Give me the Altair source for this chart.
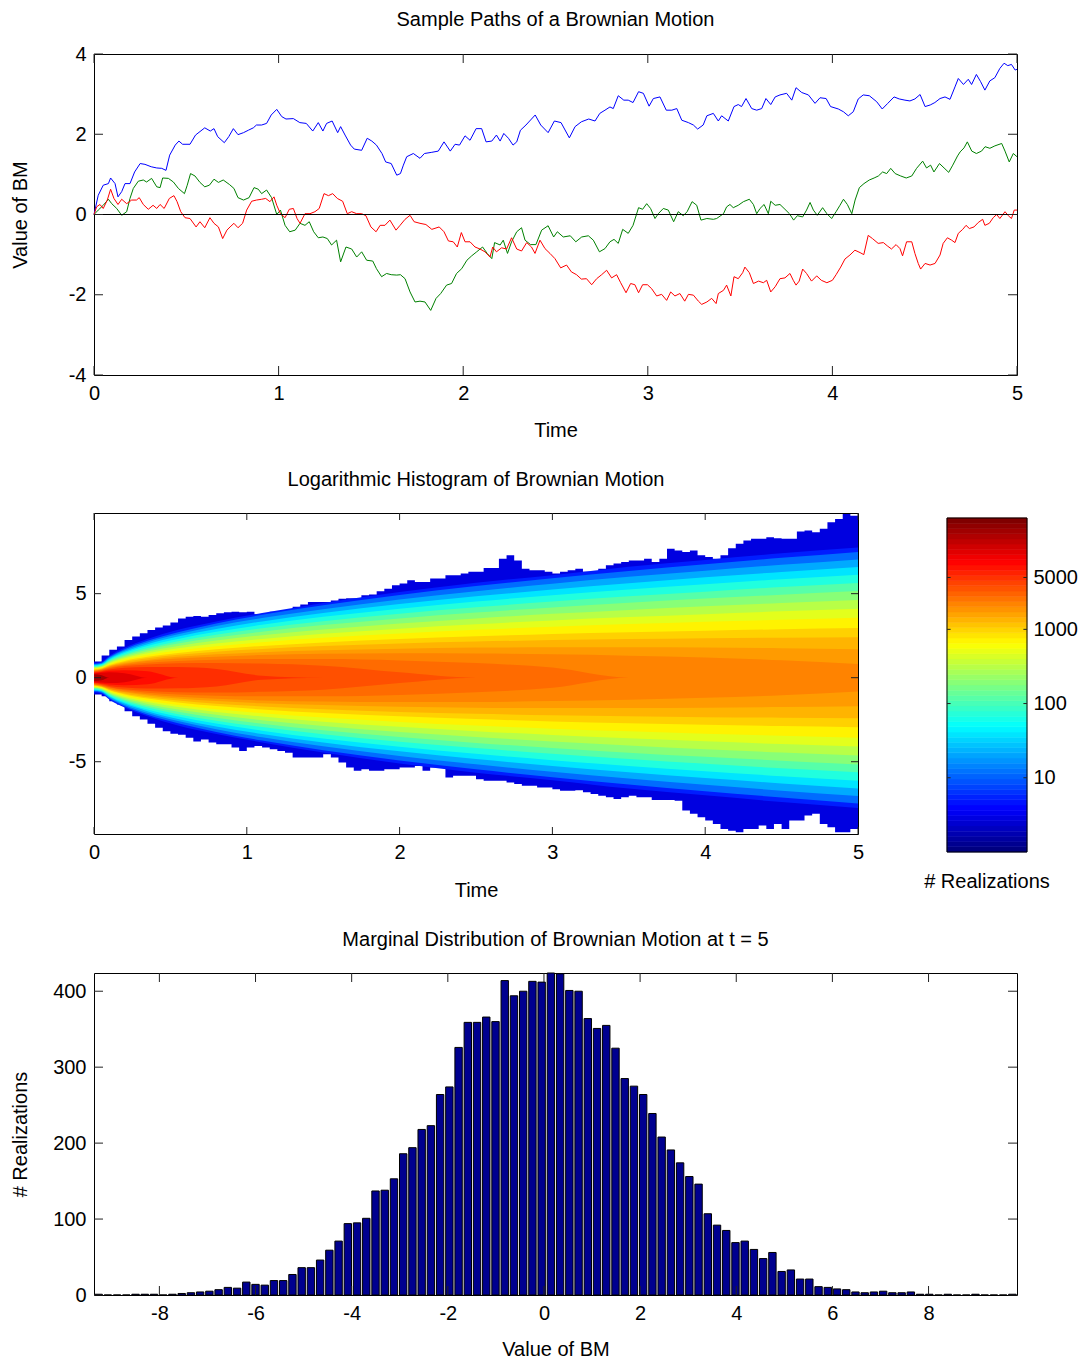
import math
import altair as alt
import pandas as pd

FONT = "Liberation Sans"
FS = 20
TICK = "#222222"

# ------------------------------------------------------------------
# Panel 1: three sample paths (t, value)
# ------------------------------------------------------------------
blue_path = [(0.0,0.0),(0.023,0.48),(0.05,0.73),(0.078,0.77),(0.09,0.91),(0.114,0.77),(0.13,0.44),(0.15,0.57),(0.168,0.77),(0.195,0.77),(0.22,1.06),(0.25,1.27),(0.276,1.25),(0.31,1.19),(0.34,1.16),(0.367,1.15),(0.39,1.10),(0.41,1.48),(0.44,1.73),(0.46,1.83),(0.48,1.75),(0.52,1.75),(0.55,1.98),(0.60,2.16),(0.63,2.08),(0.65,2.14),(0.67,1.94),(0.706,1.79),(0.73,1.94),(0.755,2.14),(0.78,1.99),(0.81,2.04),(0.836,2.10),(0.863,2.16),(0.88,2.23),(0.908,2.23),(0.935,2.27),(0.96,2.48),(0.99,2.62),(1.017,2.44),(1.04,2.38),(1.08,2.39),(1.115,2.29),(1.15,2.27),(1.185,2.08),(1.215,2.29),(1.24,2.08),(1.26,2.27),(1.29,2.33),(1.32,2.04),(1.336,2.19),(1.36,1.98),(1.39,1.73),(1.41,1.63),(1.45,1.60),(1.48,1.90),(1.505,1.83),(1.53,1.73),(1.56,1.52),(1.58,1.31),(1.61,1.27),(1.64,0.98),(1.66,1.02),(1.676,1.23),(1.694,1.44),(1.73,1.52),(1.766,1.40),(1.79,1.52),(1.83,1.55),(1.865,1.58),(1.896,1.81),(1.93,1.58),(1.956,1.75),(1.98,1.73),(2.01,1.96),(2.037,1.85),(2.07,2.14),(2.1,2.14),(2.124,1.81),(2.155,1.83),(2.18,1.98),(2.2,1.83),(2.22,2.02),(2.245,1.90),(2.27,1.73),(2.29,1.81),(2.31,2.10),(2.34,2.23),(2.39,2.48),(2.42,2.23),(2.46,2.04),(2.494,2.33),(2.53,2.29),(2.575,1.91),(2.606,2.19),(2.64,2.31),(2.68,2.38),(2.714,2.33),(2.74,2.52),(2.768,2.60),(2.795,2.68),(2.813,2.64),(2.84,2.96),(2.87,2.85),(2.894,2.85),(2.92,2.79),(2.95,3.06),(2.976,3.02),(3.007,2.70),(3.03,2.89),(3.066,2.93),(3.1,2.60),(3.13,2.60),(3.157,2.64),(3.184,2.35),(3.22,2.29),(3.247,2.23),(3.27,2.13),(3.3,2.23),(3.32,2.46),(3.355,2.52),(3.382,2.33),(3.4,2.46),(3.436,2.33),(3.467,2.69),(3.49,2.74),(3.508,2.69),(3.532,2.89),(3.563,2.64),(3.59,2.60),(3.617,2.64),(3.64,2.89),(3.666,2.74),(3.69,2.93),(3.716,2.98),(3.752,3.02),(3.78,2.85),(3.803,3.16),(3.834,3.04),(3.87,2.98),(3.906,2.77),(3.933,2.91),(3.966,2.89),(3.99,2.69),(4.032,2.63),(4.06,2.56),(4.086,2.46),(4.113,2.56),(4.14,2.88),(4.167,2.98),(4.2,2.96),(4.24,2.81),(4.27,2.63),(4.3,2.77),(4.334,2.93),(4.362,2.88),(4.393,2.85),(4.42,2.83),(4.447,2.88),(4.475,2.99),(4.502,2.69),(4.53,2.73),(4.555,2.79),(4.583,2.89),(4.61,2.93),(4.637,2.87),(4.664,3.18),(4.682,3.39),(4.71,3.24),(4.736,3.37),(4.754,3.24),(4.78,3.49),(4.803,3.31),(4.826,3.10),(4.853,3.33),(4.88,3.41),(4.907,3.64),(4.93,3.77),(4.95,3.71),(4.97,3.74),(4.99,3.60),(5.0,3.62)]

green_path = [(0.0,0.0),(0.023,0.11),(0.05,0.23),(0.078,0.38),(0.096,0.27),(0.123,0.15),(0.15,-0.02),(0.177,0.07),(0.195,0.40),(0.213,0.65),(0.24,0.83),(0.267,0.86),(0.285,0.81),(0.312,0.90),(0.34,0.69),(0.358,0.67),(0.372,0.91),(0.403,0.90),(0.43,0.81),(0.457,0.65),(0.49,0.52),(0.505,0.73),(0.523,1.02),(0.547,0.96),(0.574,0.80),(0.6,0.69),(0.625,0.73),(0.65,0.88),(0.674,0.80),(0.7,0.86),(0.733,0.75),(0.758,0.65),(0.78,0.42),(0.81,0.36),(0.84,0.42),(0.867,0.67),(0.89,0.63),(0.908,0.52),(0.935,0.61),(0.962,0.42),(0.99,0.0),(1.01,0.11),(1.035,-0.27),(1.06,-0.43),(1.09,-0.39),(1.116,-0.22),(1.143,-0.27),(1.166,-0.18),(1.19,-0.43),(1.215,-0.58),(1.24,-0.56),(1.264,-0.60),(1.287,-0.76),(1.314,-0.64),(1.336,-1.18),(1.365,-0.81),(1.396,-0.86),(1.423,-1.06),(1.45,-0.93),(1.477,-1.14),(1.51,-1.16),(1.53,-1.35),(1.558,-1.55),(1.585,-1.47),(1.61,-1.50),(1.64,-1.51),(1.66,-1.50),(1.685,-1.60),(1.712,-1.93),(1.739,-2.18),(1.766,-2.16),(1.793,-2.18),(1.824,-2.39),(1.853,-2.09),(1.878,-1.97),(1.91,-1.76),(1.937,-1.72),(1.964,-1.47),(1.992,-1.35),(2.02,-1.14),(2.046,-1.03),(2.073,-0.93),(2.105,-0.81),(2.13,-0.97),(2.155,-1.10),(2.17,-0.70),(2.2,-0.76),(2.217,-0.64),(2.24,-0.97),(2.262,-0.68),(2.29,-0.43),(2.316,-0.33),(2.335,-0.64),(2.365,-0.75),(2.394,-0.75),(2.425,-0.39),(2.46,-0.28),(2.49,-0.56),(2.51,-0.43),(2.542,-0.56),(2.58,-0.53),(2.61,-0.68),(2.642,-0.56),(2.678,-0.53),(2.705,-0.64),(2.738,-0.93),(2.768,-0.85),(2.795,-0.68),(2.817,-0.62),(2.84,-0.72),(2.864,-0.37),(2.894,-0.47),(2.92,-0.27),(2.95,0.17),(2.972,0.13),(2.994,0.27),(3.015,0.15),(3.039,-0.10),(3.057,0.02),(3.084,0.15),(3.111,0.11),(3.14,-0.18),(3.165,0.07),(3.192,-0.03),(3.213,0.07),(3.24,0.32),(3.265,0.23),(3.288,-0.14),(3.32,-0.10),(3.355,-0.12),(3.373,-0.10),(3.41,0.02),(3.427,0.19),(3.445,0.25),(3.463,0.17),(3.49,0.23),(3.518,0.32),(3.55,0.38),(3.572,0.25),(3.59,0.02),(3.608,0.15),(3.63,0.25),(3.653,0.02),(3.666,0.33),(3.69,0.23),(3.716,0.25),(3.743,0.13),(3.767,0.02),(3.79,-0.14),(3.81,-0.03),(3.839,-0.06),(3.86,0.11),(3.879,0.30),(3.897,0.11),(3.918,-0.02),(3.947,0.17),(3.97,0.02),(3.996,-0.10),(4.02,0.07),(4.041,0.23),(4.06,0.38),(4.081,0.25),(4.105,0.02),(4.123,0.36),(4.146,0.67),(4.171,0.77),(4.2,0.86),(4.226,0.91),(4.249,0.96),(4.272,1.06),(4.294,1.02),(4.316,1.15),(4.34,1.02),(4.37,0.96),(4.4,0.91),(4.43,0.96),(4.456,1.15),(4.489,1.33),(4.51,1.16),(4.532,1.23),(4.55,1.06),(4.58,1.27),(4.605,1.16),(4.63,1.05),(4.652,1.23),(4.678,1.46),(4.692,1.56),(4.713,1.66),(4.731,1.81),(4.755,1.58),(4.78,1.52),(4.808,1.58),(4.827,1.69),(4.853,1.65),(4.88,1.71),(4.917,1.77),(4.935,1.58),(4.958,1.31),(4.98,1.52),(5.0,1.44)]

red_path = [(0.0,0.0),(0.014,0.19),(0.032,0.25),(0.05,0.15),(0.072,0.36),(0.09,0.63),(0.108,0.40),(0.13,0.25),(0.15,0.38),(0.177,0.27),(0.204,0.36),(0.23,0.36),(0.245,0.42),(0.267,0.25),(0.294,0.13),(0.32,0.23),(0.34,0.15),(0.358,0.25),(0.38,0.15),(0.408,0.40),(0.433,0.47),(0.45,0.32),(0.47,0.07),(0.493,-0.08),(0.52,-0.10),(0.553,-0.31),(0.574,-0.18),(0.60,-0.33),(0.628,-0.08),(0.65,-0.22),(0.674,-0.31),(0.697,-0.60),(0.72,-0.39),(0.737,-0.31),(0.758,-0.22),(0.78,-0.33),(0.805,-0.22),(0.827,0.11),(0.854,0.33),(0.88,0.36),(0.908,0.38),(0.93,0.40),(0.953,0.32),(0.975,0.44),(0.99,0.23),(1.01,0.02),(1.035,-0.08),(1.058,0.13),(1.08,0.15),(1.1,-0.10),(1.116,-0.22),(1.143,0.02),(1.17,0.02),(1.197,0.07),(1.22,0.15),(1.246,0.52),(1.27,0.47),(1.293,0.52),(1.318,0.40),(1.347,0.33),(1.372,0.02),(1.396,0.07),(1.423,0.02),(1.45,0.02),(1.473,-0.03),(1.5,-0.31),(1.528,-0.43),(1.55,-0.27),(1.576,-0.27),(1.603,-0.14),(1.636,-0.39),(1.658,-0.27),(1.685,-0.12),(1.712,-0.02),(1.734,-0.18),(1.766,-0.22),(1.798,-0.25),(1.83,-0.37),(1.87,-0.31),(1.896,-0.43),(1.92,-0.66),(1.946,-0.68),(1.968,-0.81),(1.99,-0.45),(2.01,-0.68),(2.037,-0.68),(2.064,-0.81),(2.091,-0.86),(2.118,-0.93),(2.145,-1.06),(2.16,-0.81),(2.18,-0.93),(2.208,-0.83),(2.235,-0.86),(2.262,-0.58),(2.29,-0.86),(2.316,-0.91),(2.344,-0.70),(2.37,-0.81),(2.389,-0.97),(2.416,-0.64),(2.443,-0.85),(2.47,-0.97),(2.497,-1.10),(2.528,-1.33),(2.56,-1.26),(2.586,-1.43),(2.614,-1.50),(2.64,-1.61),(2.668,-1.60),(2.696,-1.75),(2.723,-1.60),(2.75,-1.50),(2.777,-1.39),(2.804,-1.58),(2.831,-1.50),(2.853,-1.70),(2.882,-1.95),(2.907,-1.72),(2.93,-1.75),(2.95,-1.95),(2.972,-1.75),(2.998,-1.75),(3.021,-1.85),(3.048,-2.03),(3.075,-1.99),(3.102,-2.14),(3.124,-1.93),(3.147,-2.03),(3.174,-1.97),(3.2,-2.16),(3.22,-1.99),(3.247,-2.01),(3.274,-2.16),(3.292,-2.24),(3.32,-2.18),(3.346,-2.09),(3.37,-2.22),(3.382,-1.97),(3.41,-1.89),(3.427,-1.76),(3.45,-2.03),(3.467,-1.55),(3.49,-1.60),(3.514,-1.45),(3.526,-1.31),(3.55,-1.45),(3.572,-1.72),(3.6,-1.66),(3.626,-1.70),(3.644,-1.64),(3.666,-1.93),(3.69,-1.80),(3.716,-1.60),(3.743,-1.58),(3.77,-1.47),(3.788,-1.64),(3.803,-1.76),(3.82,-1.66),(3.839,-1.36),(3.86,-1.47),(3.887,-1.66),(3.915,-1.53),(3.94,-1.64),(3.97,-1.70),(4.0,-1.64),(4.02,-1.50),(4.045,-1.31),(4.068,-1.11),(4.095,-1.01),(4.122,-0.89),(4.15,-0.95),(4.17,-1.00),(4.194,-0.52),(4.217,-0.60),(4.248,-0.72),(4.276,-0.70),(4.297,-0.78),(4.32,-0.86),(4.345,-0.75),(4.366,-0.85),(4.38,-1.03),(4.402,-0.68),(4.43,-0.68),(4.447,-0.97),(4.465,-1.22),(4.478,-1.36),(4.502,-1.22),(4.529,-1.26),(4.556,-1.22),(4.583,-1.01),(4.6,-0.72),(4.623,-0.58),(4.646,-0.64),(4.664,-0.70),(4.682,-0.47),(4.706,-0.37),(4.724,-0.27),(4.742,-0.35),(4.767,-0.31),(4.79,-0.20),(4.814,-0.12),(4.826,-0.27),(4.85,-0.22),(4.871,-0.08),(4.89,0.0),(4.907,-0.10),(4.935,0.07),(4.953,-0.03),(4.97,-0.10),(4.985,0.11),(5.0,0.11)]

path_ticks_x = [0, 1, 2, 3, 4, 5]
path_ticks_y = [-4, -2, 0, 2, 4]

# ------------------------------------------------------------------
# Panel 2: log histogram of all paths (ragged envelope + colour contours)
# ------------------------------------------------------------------
hm_col_start = [round(0.05 * k, 2) for k in range(100)]
edge_top = [0.97,1.32,1.66,1.85,2.25,2.45,2.64,2.84,2.98,3.10,
            3.29,3.53,3.63,3.67,3.63,3.73,3.83,3.89,3.93,3.89,
            3.93,3.77,3.83,3.93,3.97,4.02,4.22,4.36,4.50,4.50,
            4.50,4.60,4.70,4.73,4.73,4.90,4.95,5.15,5.30,5.50,
            5.60,5.80,5.70,5.70,5.90,5.90,6.10,6.10,6.20,6.30,
            6.30,6.53,6.53,7.08,7.28,6.98,6.49,6.40,6.40,6.30,
            6.20,6.30,6.40,6.49,6.30,6.30,6.49,6.69,6.79,6.88,
            6.98,6.98,7.08,6.88,7.08,7.67,7.57,7.48,7.57,7.28,
            7.18,7.08,7.28,7.71,7.97,8.17,8.27,8.27,8.36,8.30,
            8.27,8.27,8.70,8.76,8.66,8.86,9.25,9.45,9.74,9.64]
edge_bot = [-1.00,-1.10,-1.40,-1.60,-2.00,-2.29,-2.49,-2.74,-2.98,-3.18,
            -3.33,-3.40,-3.57,-3.80,-3.67,-3.86,-3.96,-3.96,-4.16,-4.36,
            -4.16,-4.06,-4.16,-4.26,-4.36,-4.46,-4.75,-4.75,-4.75,-4.75,
            -4.55,-4.75,-5.05,-5.35,-5.54,-5.44,-5.54,-5.54,-5.44,-5.44,
            -5.35,-5.35,-5.25,-5.54,-5.35,-5.35,-5.94,-5.84,-5.84,-5.84,
            -6.04,-6.13,-6.13,-6.13,-6.23,-6.33,-6.43,-6.43,-6.53,-6.53,
            -6.63,-6.73,-6.73,-6.69,-6.82,-6.92,-7.02,-7.12,-7.22,-7.12,
            -7.02,-7.12,-7.12,-7.28,-7.28,-7.28,-7.32,-7.90,-8.10,-8.30,
            -8.50,-8.70,-9.00,-9.10,-9.20,-9.00,-9.00,-8.80,-9.00,-8.70,
            -9.00,-8.50,-8.50,-8.20,-8.10,-8.70,-8.90,-9.20,-9.20,-9.00]

contour_times = [0.0, 0.05, 0.1, 0.2, 0.35, 0.55, 0.8, 1.1, 1.5, 2.0, 2.5, 3.0, 3.5, 4.0, 4.5, 5.0]
contour_levels = [3, 8, 15, 28, 50, 90, 150, 250, 400, 600, 900, 1200, 1600, 2000, 2600, 3300, 4500, 6500, 9000, 15000]
contour_halfwidth = {
    3:     [0.88,0.95,1.30,1.78,2.30,2.85,3.35,3.85,4.45,5.10,5.65,6.10,6.60,7.00,7.40,7.75],
    8:     [0.82,0.89,1.23,1.70,2.20,2.71,3.23,3.74,4.31,4.92,5.45,5.92,6.35,6.75,7.13,7.48],
    15:    [0.78,0.85,1.18,1.62,2.10,2.58,3.07,3.55,4.08,4.66,5.15,5.59,6.00,6.37,6.72,7.04],
    28:    [0.75,0.81,1.12,1.54,1.99,2.45,2.90,3.35,3.85,4.38,4.84,5.25,5.62,5.97,6.29,6.59],
    50:    [0.70,0.78,1.07,1.47,1.89,2.31,2.73,3.15,3.62,4.11,4.53,4.91,5.25,5.56,5.86,6.13],
    90:    [0.67,0.74,1.01,1.38,1.77,2.17,2.56,2.94,3.36,3.81,4.19,4.53,4.84,5.12,5.39,5.63],
    150:   [0.62,0.70,0.96,1.31,1.67,2.03,2.39,2.74,3.13,3.53,3.88,4.18,4.46,4.71,4.94,5.16],
    250:   [0.60,0.67,0.91,1.23,1.56,1.89,2.21,2.53,2.87,3.23,3.53,3.80,4.03,4.25,4.45,4.63],
    400:   [0.55,0.63,0.85,1.15,1.45,1.75,2.04,2.31,2.62,2.92,3.18,3.41,3.61,3.78,3.95,4.10],
    600:   [0.53,0.60,0.80,1.07,1.35,1.62,1.87,2.11,2.37,2.63,2.85,3.03,3.19,3.33,3.45,3.57],
    900:   [0.48,0.56,0.75,1.00,1.24,1.47,1.69,1.89,2.10,2.30,2.46,2.60,2.71,2.80,2.88,2.95],
    1200:  [0.47,0.54,0.71,0.94,1.16,1.36,1.55,1.71,1.88,2.04,2.15,2.24,2.30,2.35,2.38,2.41],
    1600:  [0.43,0.51,0.67,0.87,1.06,1.24,1.39,1.52,1.63,1.73,1.79,1.81,1.81,1.79,1.75,1.70],
    2000:  [0.42,0.49,0.64,0.82,0.99,1.14,1.25,1.35,1.42,1.45,1.44,1.39,1.31,1.20,1.04,0.82],
    2600:  [0.38,0.46,0.59,0.75,0.89,1.00,1.07,1.11,1.11,1.03,0.87,0.60,0.00,0.00,0.00,0.00],
    3300:  [0.37,0.43,0.55,0.69,0.79,0.86,0.88,0.84,0.71,0.32,0.00,0.00,0.00,0.00,0.00,0.00],
    4500:  [0.32,0.39,0.49,0.59,0.64,0.63,0.52,0.12,0.00,0.00,0.00,0.00,0.00,0.00,0.00,0.00],
    6500:  [0.30,0.34,0.41,0.45,0.39,0.00,0.00,0.00,0.00,0.00,0.00,0.00,0.00,0.00,0.00,0.00],
    9000:  [0.25,0.29,0.32,0.27,0.00,0.00,0.00,0.00,0.00,0.00,0.00,0.00,0.00,0.00,0.00,0.00],
    15000: [0.20,0.15,0.00,0.00,0.00,0.00,0.00,0.00,0.00,0.00,0.00,0.00,0.00,0.00,0.00,0.00],
}
EDGE_COLOR = "#0000E0"
hm_ticks_x = [0, 1, 2, 3, 4, 5]
hm_ticks_y = [-5, 0, 5]
cb_ticks = [10, 100, 1000, 5000]
CB_MAX = 10 ** 4.5

# ------------------------------------------------------------------
# Panel 3: histogram at t = 5 (100 bins)
# ------------------------------------------------------------------
HIST_MIN, HIST_MAX = -9.36, 9.84
hist_counts = [1,0,0,0,1,1,1,0,1,2,
               3,4,5,7,10,9,17,14,13,19,
               19,27,36,36,46,59,71,94,95,101,
               137,138,153,186,194,218,223,264,274,326,
               359,359,366,360,414,394,400,413,412,424,
               423,401,400,364,351,355,325,285,275,264,
               239,208,191,174,156,146,107,92,85,69,
               71,60,48,56,31,33,21,21,11,10,
               8,7,4,3,4,5,3,3,4,1,
               1,0,1,0,0,1,0,0,0,1]
hist_ticks_x = [-8, -6, -4, -2, 0, 2, 4, 6, 8]
hist_ticks_y = [0, 100, 200, 300, 400]


# ------------------------------------------------------------------
def jet(x):
    r = min(1.0, max(0.0, 1.5 - abs(4 * x - 3)))
    g = min(1.0, max(0.0, 1.5 - abs(4 * x - 2)))
    b = min(1.0, max(0.0, 1.5 - abs(4 * x - 1)))
    return "#%02x%02x%02x" % (round(r * 255), round(g * 255), round(b * 255))


def enc_x(field, domain, values, title, title_y):
    return alt.X(f"{field}:Q", scale=alt.Scale(domain=domain, nice=False, zero=False),
                 axis=alt.Axis(values=values, title=title, labelExpr="toString(datum.value)",
                               titleY=title_y, titleBaseline="middle"))


def enc_y(field, domain, values, title):
    return alt.Y(f"{field}:Q", scale=alt.Scale(domain=domain, nice=False, zero=False),
                 axis=alt.Axis(values=values, title=title, labelExpr="toString(datum.value)",
                               titleX=-74, titleBaseline="middle"))


def inward_ticks(xvals, yvals, fx, fy, W, H, L):
    xt = pd.DataFrame({"v": xvals})
    yt = pd.DataFrame({"v": yvals})
    m = dict(color=TICK, strokeWidth=1)
    return [
        alt.Chart(xt).mark_rule(**m).encode(x=fx("v"), y=alt.value(H), y2=alt.value(H - L)),
        alt.Chart(xt).mark_rule(**m).encode(x=fx("v"), y=alt.value(0), y2=alt.value(L)),
        alt.Chart(yt).mark_rule(**m).encode(y=fy("v"), x=alt.value(0), x2=alt.value(L)),
        alt.Chart(yt).mark_rule(**m).encode(y=fy("v"), x=alt.value(W - L), x2=alt.value(W)),
    ]


def title(text, offset):
    return alt.Title(text=text, offset=offset, font=FONT, fontSize=FS, fontWeight="normal",
                     color="black", anchor="middle", frame="group", baseline="middle")


# ---------------- Panel 1 ----------------
W1, H1 = 923, 321
fx1 = lambda f: enc_x(f, [0, 5], path_ticks_x, "Time", 55)
fy1 = lambda f: enc_y(f, [-4, 4], path_ticks_y, "Value of BM")

line_layers = []
for pts, col in ((blue_path, "#0000FF"), (green_path, "#008000"), (red_path, "#FF0000")):
    df = pd.DataFrame(pts, columns=["t", "v"])
    line_layers.append(alt.Chart(df).mark_line(color=col, strokeWidth=1).encode(x=fx1("t"), y=fy1("v")))
zero_line = alt.Chart(pd.DataFrame({"v": [0]})).mark_rule(color="black", strokeWidth=1).encode(y=fy1("v"))

top = alt.layer(*line_layers, zero_line,
                *inward_ticks(path_ticks_x, path_ticks_y, fx1, fy1, W1, H1, 9)).properties(
    width=W1, height=H1, title=title("Sample Paths of a Brownian Motion", 4))

# ---------------- Panel 2 ----------------
W2, H2 = 764, 321
fx2 = lambda f: enc_x(f, [0, 5], hm_ticks_x, "Time", 56)
fy2 = lambda f: enc_y(f, [-9.3, 9.8], hm_ticks_y, None)

band_lo = contour_levels
band_hi = contour_levels[1:] + [CB_MAX]
band_col = [jet(math.log10(math.sqrt(lo * hi)) / 4.5) for lo, hi in zip(band_lo, band_hi)]

hm_layers = []
edge_df = pd.DataFrame({"t": hm_col_start + [5.0],
                        "top": edge_top + [edge_top[-1]],
                        "bot": edge_bot + [edge_bot[-1]]})
hm_layers.append(alt.Chart(edge_df).mark_area(interpolate="step-after", color=EDGE_COLOR, clip=True)
                 .encode(x=fx2("t"), y=fy2("top"), y2=alt.Y2("bot")))
for i, c in enumerate(contour_levels):
    hw = contour_halfwidth[c]
    df = pd.DataFrame({"t": contour_times, "top": hw, "bot": [-h for h in hw]})
    hm_layers.append(alt.Chart(df).mark_area(interpolate="monotone", color=band_col[i], clip=True)
                     .encode(x=fx2("t"), y=fy2("top"), y2=alt.Y2("bot")))

heat = alt.layer(*hm_layers, *inward_ticks(hm_ticks_x, hm_ticks_y, fx2, fy2, W2, H2, 7))

# colour bar (legend) drawn beside the heat map
cbx = lambda f: alt.X(f"{f}:Q", scale=alt.Scale(domain=[0, 1], range=[853, 933]), axis=None)
cby = lambda f: alt.Y(f"{f}:Q", scale=alt.Scale(type="log", domain=[1, CB_MAX], range=[339, 5], nice=False),
                      axis=alt.Axis(orient="right", offset=169, values=cb_ticks, title=None,
                                    labelExpr="toString(datum.value)", labelPadding=6))
cb_df = pd.DataFrame([{"lo": 10 ** (4.5 * i / 64), "hi": 10 ** (4.5 * (i + 1) / 64),
                       "color": jet(i / 63), "x0": 0, "x1": 1} for i in range(64)])
cb_rects = alt.Chart(cb_df).mark_rect(strokeWidth=0.6).encode(
    x=cbx("x0"), x2=alt.X2("x1"), y=cby("lo"), y2=alt.Y2("hi"),
    color=alt.Color("color:N", scale=None), stroke=alt.Stroke("color:N", scale=None))
cb_border = alt.Chart(pd.DataFrame({"lo": [1], "hi": [CB_MAX], "x0": [0], "x1": [1]})).mark_rect(
    fillOpacity=0, stroke="black", strokeWidth=1).encode(x=cbx("x0"), x2=alt.X2("x1"), y=cby("lo"), y2=alt.Y2("hi"))
cb_tick_df = pd.DataFrame([{"v": v, "a": a, "b": b} for v in cb_ticks for a, b in ((0, 0.045), (0.955, 1))])
cb_tick = alt.Chart(cb_tick_df).mark_rule(color=TICK, strokeWidth=1).encode(
    x=cbx("a"), x2=alt.X2("b"), y=cby("v"))
cb_title = alt.Chart(pd.DataFrame({"x": [0.5]})).mark_text(
    text="# Realizations", font=FONT, fontSize=FS, align="center", baseline="middle", color="black").encode(
    x=cbx("x"), y=alt.value(369))
cbar = alt.layer(cb_rects, cb_border, cb_tick, cb_title)

mid = alt.layer(heat, cbar).resolve_scale(x="independent", y="independent").properties(
    width=W2, height=H2, title=title("Logarithmic Histogram of Brownian Motion", 13))

# ---------------- Panel 3 ----------------
W3, H3 = 923, 322
fx3 = lambda f: enc_x(f, [HIST_MIN, HIST_MAX], hist_ticks_x, "Value of BM", 54)
fy3 = lambda f: enc_y(f, [0, 424], hist_ticks_y, "# Realizations")
bw = (HIST_MAX - HIST_MIN) / len(hist_counts)
hist_df = pd.DataFrame({
    "lo": [HIST_MIN + i * bw + 0.1 * bw for i in range(len(hist_counts))],
    "hi": [HIST_MIN + (i + 1) * bw - 0.1 * bw for i in range(len(hist_counts))],
    "count": hist_counts,
    "base": [0] * len(hist_counts),
})
bars = alt.Chart(hist_df).mark_rect(fill="#00008F", stroke="black", strokeWidth=1).encode(
    x=fx3("lo"), x2=alt.X2("hi"), y=fy3("count"), y2=alt.Y2("base"))
bottom = alt.layer(bars, *inward_ticks(hist_ticks_x, hist_ticks_y, fx3, fy3, W3, H3, 9)).properties(
    width=W3, height=H3, title=title("Marginal Distribution of Brownian Motion at t = 5", 13))

chart = alt.vconcat(top, mid, bottom, spacing=28).configure(
    padding={"left": 9, "top": 9, "right": 5, "bottom": 5}, background="white", font=FONT
).configure_view(stroke="black", strokeWidth=1).configure_axis(
    grid=False, domain=False, ticks=False, tickSize=0,
    labelFont=FONT, labelFontSize=FS, labelColor="black", labelPadding=8,
    labelFlush=False, labelOverlap=False,
    titleFont=FONT, titleFontSize=FS, titleFontWeight="normal", titleColor="black"
)

chart.save("out.html", embed_options={"renderer": "svg", "actions": False})
